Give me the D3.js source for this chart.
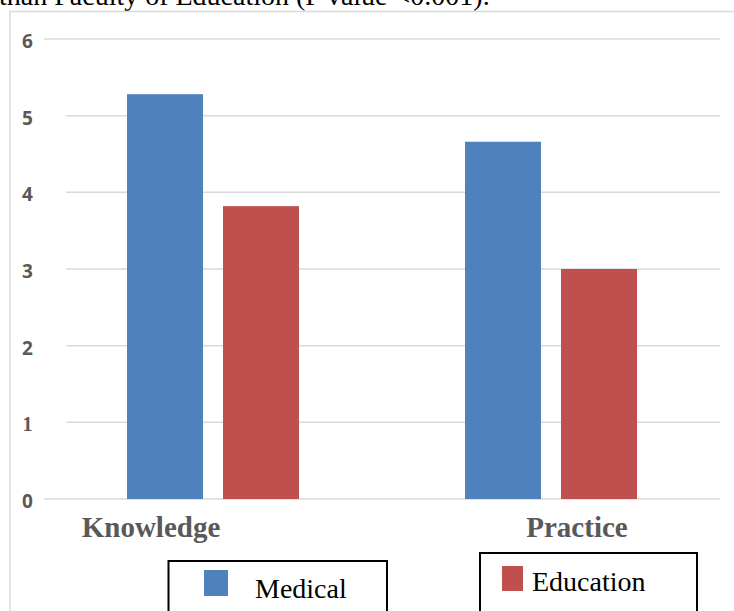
<!DOCTYPE html>
<html><head><meta charset="utf-8">
<script src="https://cdn.jsdelivr.net/npm/d3@7"></script>
<style>html,body{margin:0;padding:0;background:#fff;overflow:hidden}</style>
</head><body>
<svg id="c" width="734" height="611"></svg>
<script>
const categories = ["Knowledge", "Practice"];
const seriesNames = ["Medical", "Education"];
const medical = [5.28, 4.66];
const education = [3.82, 3.0];
const yTicks = [0, 1, 2, 3, 4, 5, 6];
const captionText = "than Faculty of Education (P value <0.001).";

const colors = {Medical: "#4f81bd", Education: "#c0504d"};
const svg = d3.select("#c");

// caption fragment at top (cut off)
svg.append("text").attr("x", -1).attr("y", 5)
  .attr("font-family", "'Liberation Serif', 'Times New Roman', serif")
  .attr("font-size", 28).attr("fill", "#000").text(captionText);

// chart frame
svg.append("path").attr("d", "M10,611 V11.5 H734")
  .attr("fill", "none").attr("stroke", "#d9d9d9").attr("stroke-width", 1.5);

const y = d3.scaleLinear().domain([0, 6]).range([499, 39]);
const x0 = d3.scaleBand().domain(categories).range([44, 720]).paddingInner(0).paddingOuter(0);
const groupW = 172;
const x1 = d3.scaleBand().domain(seriesNames).range([0, groupW]).paddingInner(0.2083).paddingOuter(0);

// gridlines
svg.append("g").selectAll("line").data(yTicks).join("line")
  .attr("x1", d => (d === 0 || d === 6) ? 44 : 66).attr("x2", 720)
  .attr("y1", d => y(d)).attr("y2", d => y(d))
  .attr("stroke", "#d9d9d9").attr("stroke-width", 1.5);

// y tick labels
svg.append("g").selectAll("text").data(yTicks).join("text")
  .attr("x", 27.5).attr("y", d => y(d) + 9)
  .attr("text-anchor", "middle")
  .attr("font-family", d => d === 1 ? "'Liberation Serif', serif" : "'Open Sans', 'Liberation Sans', sans-serif")
  .attr("font-weight", "bold").attr("font-size", d => d === 1 ? 20 : 19)
  .attr("fill", "#595959").text(d => d);

// bars
const rows = categories.map((c, i) => ({cat: c, values: [
  {s: "Medical", v: medical[i]}, {s: "Education", v: education[i]}]}));
const g = svg.append("g").selectAll("g").data(rows).join("g")
  .attr("transform", d => `translate(${x0(d.cat) + (x0.bandwidth() - groupW) / 2},0)`);
g.selectAll("rect").data(d => d.values).join("rect")
  .attr("x", d => x1(d.s)).attr("width", x1.bandwidth())
  .attr("y", d => y(d.v)).attr("height", d => y(0) - y(d.v))
  .attr("fill", d => colors[d.s]);

// category labels
const labelShift = [-62, 26];
svg.append("g").selectAll("text").data(categories).join("text")
  .attr("x", (d, i) => x0(d) + x0.bandwidth() / 2 + labelShift[i]).attr("y", 537)
  .attr("text-anchor", "middle")
  .attr("font-family", "'Liberation Serif', 'Times New Roman', serif")
  .attr("font-weight", "bold").attr("font-size", 29)
  .attr("fill", "#595959").text(d => d);

// legend boxes
const legend = [
  {s: "Medical", bx: 168.5, by: 561, bw: 218.5, sx: 204, sy: 570, sw: 24, sh: 26, tx: 255, ty: 598},
  {s: "Education", bx: 480, by: 553, bw: 217, sx: 502, sy: 566, sw: 21, sh: 25, tx: 532, ty: 591}
];
const lg = svg.append("g").selectAll("g").data(legend).join("g");
lg.append("rect").attr("x", d => d.bx).attr("y", d => d.by).attr("width", d => d.bw).attr("height", 80)
  .attr("fill", "#fff").attr("stroke", "#000").attr("stroke-width", 2);
lg.append("rect").attr("x", d => d.sx).attr("y", d => d.sy).attr("width", d => d.sw).attr("height", d => d.sh)
  .attr("fill", d => colors[d.s]);
lg.append("text").attr("x", d => d.tx).attr("y", d => d.ty)
  .attr("font-family", "'Liberation Serif', 'Times New Roman', serif")
  .attr("font-size", 28).attr("fill", "#000").text(d => d.s);
</script>
</body></html>
